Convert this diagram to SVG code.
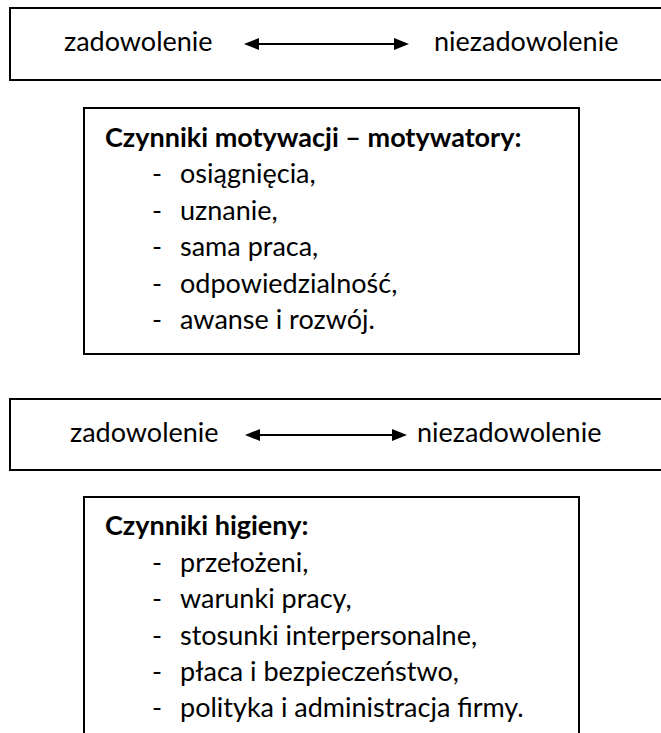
<svg xmlns="http://www.w3.org/2000/svg" width="661" height="733" viewBox="0 0 661 733">
<style>
.box{fill:#fff;stroke:#000;stroke-width:2}
.t{font-family:Lato,"Liberation Sans",sans-serif;font-size:27px;fill:#000}
.b{font-weight:bold}
.conn{stroke:#000;stroke-width:2;fill:none}
</style>
<defs>
<marker id="ah" markerUnits="userSpaceOnUse" markerWidth="15" markerHeight="12" refX="0" refY="6" orient="auto-start-reverse" viewBox="0 0 15 12">
<path d="M0,0 L15,6 L0,12 z" fill="#000"/>
</marker>
</defs>
<rect width="661" height="733" fill="#fff"/>
<g id="box1">
<rect class="box" x="10" y="8" width="700" height="72"/>
<text class="t" x="64" y="51">zadowolenie</text>
<text class="t" x="434" y="51">niezadowolenie</text>
</g>
<g id="box2">
<rect class="box" x="84" y="108" width="495" height="246"/>
<text class="t b" x="105" y="147">Czynniki motywacji – motywatory:</text>
<g class="t">
<text x="152" y="183">-</text><text x="180" y="183">osiągnięcia,</text>
<text x="152" y="220">-</text><text x="180" y="220">uznanie,</text>
<text x="152" y="256">-</text><text x="180" y="256">sama praca,</text>
<text x="152" y="293">-</text><text x="180" y="293">odpowiedzialność,</text>
<text x="152" y="329">-</text><text x="180" y="329">awanse i rozwój.</text>
</g>
</g>
<g id="box3">
<rect class="box" x="10" y="399" width="700" height="71"/>
<text class="t" x="70" y="442">zadowolenie</text>
<text class="t" x="417" y="442">niezadowolenie</text>
</g>
<g id="box4">
<rect class="box" x="84" y="497" width="495" height="260"/>
<text class="t b" x="105" y="535">Czynniki higieny:</text>
<g class="t">
<text x="152" y="572">-</text><text x="180" y="572">przełożeni,</text>
<text x="152" y="608">-</text><text x="180" y="608">warunki pracy,</text>
<text x="152" y="645">-</text><text x="180" y="645">stosunki interpersonalne,</text>
<text x="152" y="681">-</text><text x="180" y="681">płaca i bezpieczeństwo,</text>
<text x="152" y="717">-</text><text x="180" y="717">polityka i administracja firmy.</text>
</g>
</g>
<g id="connectors">
<line class="conn" x1="259" y1="44" x2="394" y2="44" marker-start="url(#ah)" marker-end="url(#ah)"/>
<line class="conn" x1="260" y1="435" x2="392" y2="435" marker-start="url(#ah)" marker-end="url(#ah)"/>
</g>
</svg>
